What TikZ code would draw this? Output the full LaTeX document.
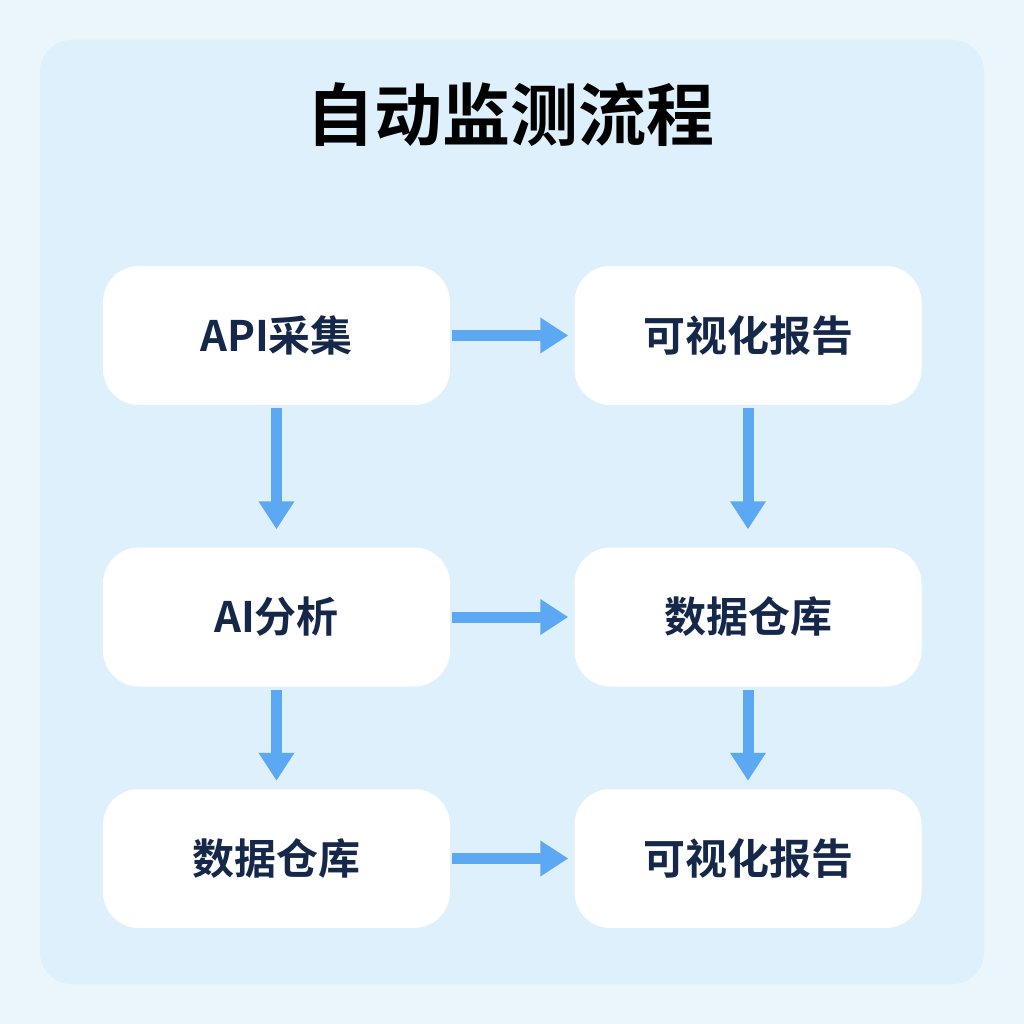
\documentclass[tikz,border=0pt]{standalone}
\usepackage{fontspec}
\setmainfont{Noto Sans CJK SC}[BoldFont={Noto Sans CJK SC Bold}]
\usetikzlibrary{arrows.meta}
\definecolor{bgout}{HTML}{EAF5FC}
\definecolor{panel}{HTML}{DDF0FB}
\definecolor{navy}{HTML}{16284A}
\definecolor{arr}{HTML}{5DA8F2}
\begin{document}
\begin{tikzpicture}[x=1pt,y=-1pt,
  box/.style={fill=white,rounded corners=36pt,minimum width=347pt,minimum height=139pt,inner sep=0pt,
    font=\fontsize{42}{46}\selectfont\bfseries,text=navy},
  flow/.style={draw=arr,line width=11pt,-{Triangle[width=34pt,length=28pt]}}]
\fill[bgout] (0,0) rectangle (1024,1024);
\fill[panel,rounded corners=32pt] (40,40) rectangle (984,984);
\node[font=\fontsize{68}{74}\selectfont\bfseries,text=black] (title) at (510,115) {自动监测流程};
\node[box] (a1) at (276.5,335.5) {API采集};
\node[box] (b1) at (748,335.5) {可视化报告};
\node[box] (a2) at (276.5,617) {AI分析};
\node[box] (b2) at (748,617) {数据仓库};
\node[box] (a3) at (276.5,858.5) {数据仓库};
\node[box] (b3) at (748,858.5) {可视化报告};
\draw[flow,shorten <=2pt,shorten >=6pt] (a1) -- (b1);
\draw[flow,shorten <=2pt,shorten >=6pt] (a2) -- (b2);
\draw[flow,shorten <=2pt,shorten >=6pt] (a3) -- (b3);
\draw[flow,shorten <=3pt,shorten >=18pt] (a1) -- (a2);
\draw[flow,shorten <=3pt,shorten >=18pt] (b1) -- (b2);
\draw[flow,shorten <=3pt,shorten >=8pt] (a2) -- (a3);
\draw[flow,shorten <=3pt,shorten >=8pt] (b2) -- (b3);
\end{tikzpicture}
\end{document}
